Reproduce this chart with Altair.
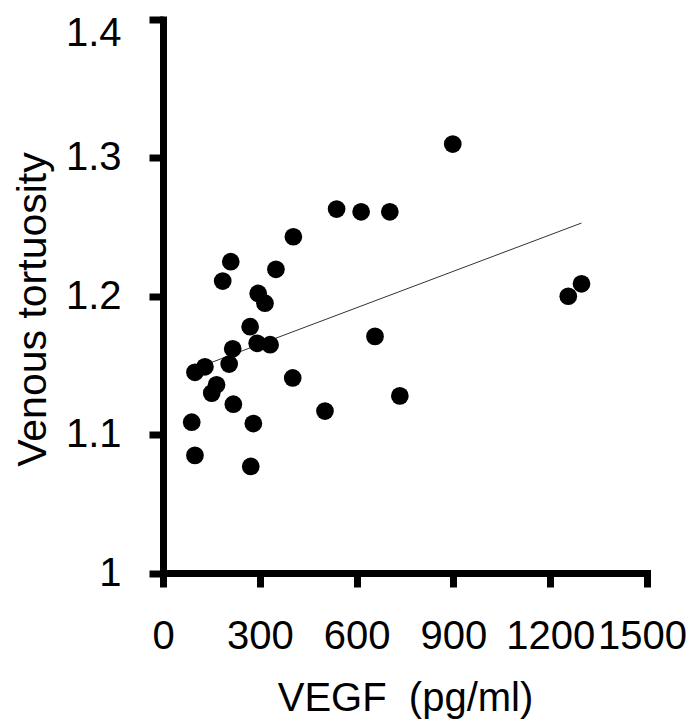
import altair as alt
import pandas as pd

# VEGF (pg/ml) and venous tortuosity
vegf = [538, 404, 210, 185, 350, 295, 316, 270, 292, 332,
        216, 205, 130, 99, 166, 151, 218, 402, 502, 89,
        280, 99, 272, 898, 614, 703, 1297, 1256, 657, 734]
tortuosity = [1.263, 1.243, 1.225, 1.211, 1.2195, 1.202, 1.195, 1.178, 1.166, 1.165,
              1.162, 1.151, 1.149, 1.145, 1.136, 1.130, 1.122, 1.141, 1.117, 1.109,
              1.108, 1.085, 1.077, 1.310, 1.261, 1.261, 1.209, 1.200, 1.171, 1.128]

x_ticks = [0, 300, 600, 900, 1200, 1500]
y_ticks = [1, 1.1, 1.2, 1.3, 1.4]

df = pd.DataFrame({"vegf": vegf, "tort": tortuosity})

FONT = "Liberation Sans"

common = dict(
    domainColor="black", domainWidth=7, domainCap="square",
    tickColor="black", tickWidth=7, tickSize=14,
    labelFont=FONT, labelFontSize=40, labelColor="black",
    titleFont=FONT, titleFontWeight="normal", titleColor="black",
    labelFlush=False, labelOverlap=False, grid=False,
)

x_enc = alt.X(
    "vegf:Q",
    scale=alt.Scale(domain=[0, 1500], nice=False, zero=False),
    axis=alt.Axis(
        values=x_ticks, format="d", title="VEGF\u00a0 (pg/ml)",
        titleFontSize=40, titleY=137, titleBaseline="alphabetic", labelPadding=29,
        labelOffset={"condition": {"test": "datum.value == 1500", "value": -5}, "value": 0},
        **common,
    ),
)
y_enc = alt.Y(
    "tort:Q",
    scale=alt.Scale(domain=[1, 1.4], nice=False, zero=False),
    axis=alt.Axis(
        values=y_ticks, format=".1~f", title="Venous tortuosity",
        titleFontSize=41, titleX=-118, titleY=289.5, titleAngle=270, titleAlign="center",
        titleBaseline="alphabetic", labelPadding=28,
        labelOffset={"condition": {"test": "datum.value >= 1.39", "value": 14}, "value": 0},
        **common,
    ),
)

line = alt.Chart(df).transform_regression("vegf", "tort").mark_line(
    color="#333333", strokeWidth=1
).encode(x=x_enc, y=y_enc)

points = alt.Chart(df).mark_circle(size=314, color="black", opacity=1).encode(
    x=x_enc, y=y_enc
)

chart = (
    alt.layer(line, points)
    .properties(
        width=484, height=553.5,
        autosize=alt.AutoSizeParams(type="none"),
        padding={"left": 155, "top": 11.5, "right": 39, "bottom": 146},
        background="white",
    )
    .configure_view(stroke=None)
)

chart.save("out.html", embed_options={"renderer": "svg", "actions": False})
